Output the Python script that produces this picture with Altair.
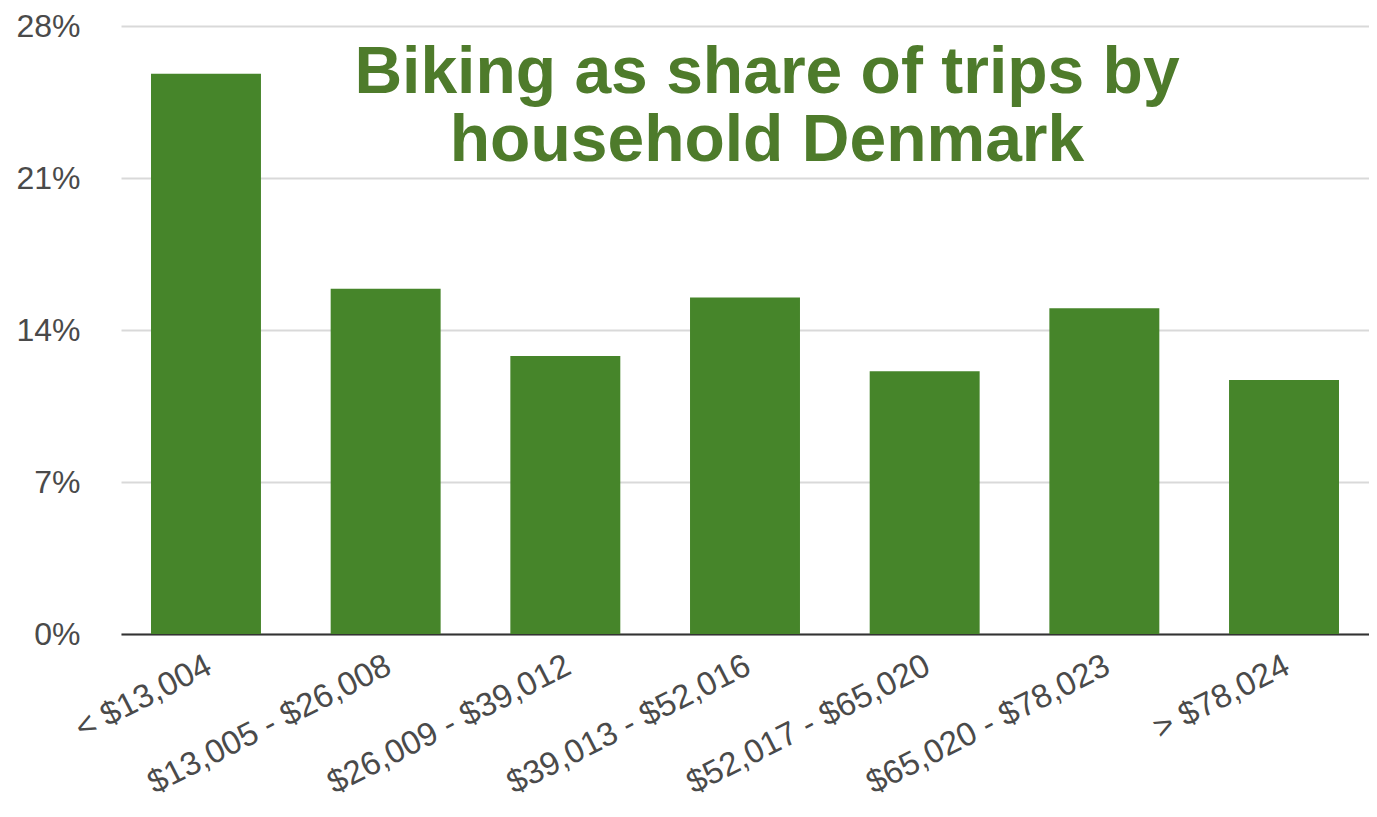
import altair as alt
import pandas as pd

categories = ["< $13,004", "$13,005 - $26,008", "$26,009 - $39,012", "$39,013 - $52,016",
              "$52,017 - $65,020", "$65,020 - $78,023", "> $78,024"]
shares = [25.8, 15.9, 12.8, 15.5, 12.1, 15.0, 11.7]
y_ticks = [0, 7, 14, 21, 28]
title_lines = ["Biking as share of trips by", "household Denmark"]

df = pd.DataFrame({"income": categories, "share": shares})
tdf = pd.DataFrame({"line": title_lines, "i": [0, 1]})

W, H = 1248, 608

bars = alt.Chart(df).mark_bar(color="#46852a").encode(
    x=alt.X("income:N", sort=categories,
            scale=alt.Scale(paddingInner=0.388, paddingOuter=0.167),
            axis=alt.Axis(title=None, labelAngle=-27, labelFontSize=33, labelFont="Liberation Sans",
                          labelColor="#4a4a4a", ticks=False, domainColor="#333333", domainWidth=2,
                          labelPadding=15, labelOffset=-4, labelOverlap=False, labelLimit=400)),
    y=alt.Y("share:Q", scale=alt.Scale(domain=[0, 28], nice=False),
            axis=alt.Axis(title=None, values=y_ticks, labelExpr="datum.value + '%'",
                          labelFontSize=32, labelFont="Liberation Sans", labelColor="#4a4a4a",
                          ticks=False, domain=False, gridColor="#d9d9d9", gridWidth=2,
                          labelPadding=41)),
)

title = alt.Chart(tdf).mark_text(
    font="Liberation Sans", fontWeight="bold", fontSize=66, color="#4e7b2b",
    align="center", baseline="alphabetic"
).encode(
    text="line:N",
    x=alt.value(646),
    y=alt.Y("i:Q", scale=alt.Scale(domain=[0, 1], range=[67, 135]), axis=None),
)

chart = alt.layer(bars, title).properties(
    width=W, height=H,
    autosize=alt.AutoSizeParams(type="none"),
    padding={"left": 113, "top": 18, "right": 0, "bottom": 172},
).configure_view(stroke=None).resolve_scale(y="independent")

chart.save("out.html", embed_options={"renderer": "svg", "actions": False})
